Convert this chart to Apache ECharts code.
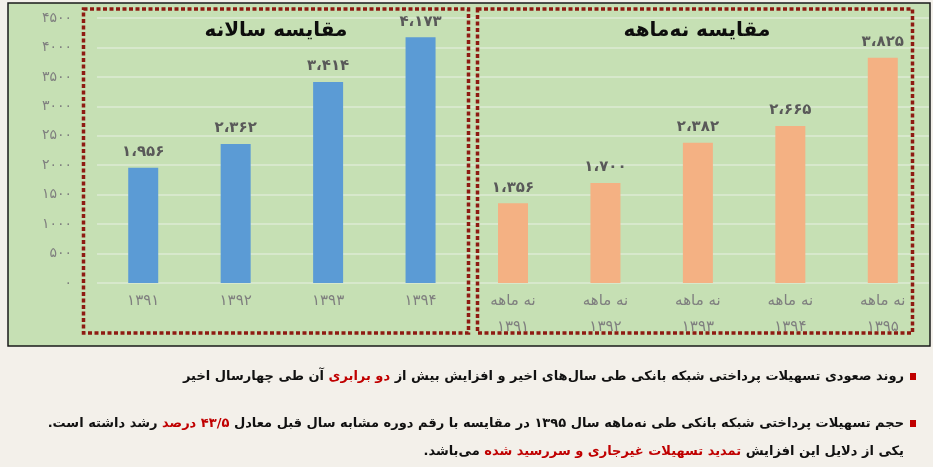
<!DOCTYPE html>
<html>
<head>
<meta charset="utf-8">
<script src="https://cdn.jsdelivr.net/npm/echarts@6/dist/echarts.min.js"></script>
<style>
  html, body { margin: 0; padding: 0; background: #f3f0ea; }
  #chart { width: 933px; height: 467px; }
</style>
</head>
<body>
<div id="chart"></div>
<script>
// Yearly facilities paid by the banking network (billion units)
const annualYears = ['۱۳۹۱', '۱۳۹۲', '۱۳۹۳', '۱۳۹۴'];
const annualValues = [1956, 2362, 3414, 4173];

// Nine-month totals for the same years plus 1395
const nineMonthYears = ['۱۳۹۱', '۱۳۹۲', '۱۳۹۳', '۱۳۹۴', '۱۳۹۵'];
const nineMonthValues = [1356, 1700, 2382, 2665, 3825];
const nineMonthPrefix = 'نه ماهه';

const panelTitles = ['مقایسه سالانه', 'مقایسه نه‌ماهه'];
const yMin = 0, yMax = 4500, yStep = 500;

// Notes below the chart: each line is [text, isHighlighted] pieces in reading order
const noteLines = [
  [['روند صعودی تسهیلات پرداختی شبکه بانکی طی سال‌های اخیر و افزایش بیش از', false],
   ['دو برابری', true],
   ['آن طی چهارسال اخیر', false]],
  [['حجم تسهیلات پرداختی شبکه بانکی طی نه‌ماهه سال ۱۳۹۵ در مقایسه با رقم دوره مشابه سال قبل معادل', false],
   ['۴۳/۵ درصد', true],
   ['رشد داشته است.', false]],
  [['یکی از دلایل این افزایش', false],
   ['تمدید تسهیلات غیرجاری و سررسید شده', true],
   ['می‌باشد.', false]]
];

const FA_DIGITS = '۰۱۲۳۴۵۶۷۸۹';
const toFa = s => String(s).replace(/\d/g, d => FA_DIGITS[+d]);
const fmtValue = v => toFa(v >= 1000 ? Math.floor(v / 1000) + '،' + String(v % 1000).padStart(3, '0') : v);
const RLM = '\u200F';
const rtl = s => RLM + s + RLM;

const FONT = 'DejaVu Sans';
const categories = annualYears.concat(nineMonthYears.map(y => nineMonthPrefix + '\n' + y));
const annualSeries = annualValues.concat(nineMonthYears.map(() => '-'));
const nineSeries = annualYears.map(() => '-').concat(nineMonthValues);

const valueLabel = {
  show: true,
  position: 'top',
  distance: 8,
  formatter: p => fmtValue(p.value),
  color: '#595959',
  fontFamily: FONT,
  fontWeight: 'bold',
  fontSize: 15
};

// Build rich text for a note line; pieces laid out right-to-left on screen
function noteRich(pieces) {
  const parts = pieces.slice().reverse().map(([t, hi]) => '{' + (hi ? 'r' : 'k') + '|' + rtl(t) + '}');
  return parts.join('{k| }');
}

const noteY = [377, 424, 452];
const noteGraphics = noteLines.map((pieces, i) => ({
  type: 'text',
  z: 50,
  style: {
    x: 904,
    y: noteY[i],
    align: 'right',
    verticalAlign: 'middle',
    text: noteRich(pieces),
    rich: {
      k: { fontFamily: FONT, fontWeight: 'bold', fontSize: 13, fill: '#111111' },
      r: { fontFamily: FONT, fontWeight: 'bold', fontSize: 13, fill: '#c00000' }
    }
  }
}));
const bulletGraphics = [0, 1].map(i => ({
  type: 'rect',
  z: 50,
  shape: { x: 910, y: noteY[i] - 4, width: 6, height: 7 },
  style: { fill: '#c00000' }
}));

const chart = echarts.init(document.getElementById('chart'), null, { renderer: 'canvas' });
chart.setOption({
  backgroundColor: '#f3f0ea',
  animation: false,
  grid: { left: 97, right: 4, top: 18, bottom: 184, containLabel: false },
  xAxis: {
    type: 'category',
    data: categories,
    axisLine: { show: false },
    axisTick: { show: false },
    axisLabel: {
      margin: 5,
      color: '#7f7f7f',
      fontFamily: FONT,
      fontSize: 15,
      lineHeight: 26,
      interval: 0
    }
  },
  yAxis: {
    type: 'value',
    min: yMin,
    max: yMax,
    interval: yStep,
    axisLine: { show: false },
    axisTick: { show: false },
    axisLabel: {
      margin: 25,
      color: '#7f7f7f',
      fontFamily: FONT,
      fontSize: 14,
      formatter: v => toFa(v)
    },
    splitLine: { lineStyle: { color: '#dcebd4', width: 1.5 } }
  },
  series: [
    {
      name: panelTitles[0],
      type: 'bar',
      data: annualSeries,
      barWidth: 30,
      barGap: '-100%',
      itemStyle: { color: '#5b9bd5' },
      label: valueLabel
    },
    {
      name: panelTitles[1],
      type: 'bar',
      data: nineSeries,
      barWidth: 30,
      barGap: '-100%',
      itemStyle: { color: '#f4b183' },
      label: valueLabel
    }
  ],
  graphic: [
    {
      type: 'rect',
      z: -10,
      shape: { x: 8, y: 3, width: 922, height: 343 },
      style: { fill: '#c6e0b4', stroke: '#1a1a1a', lineWidth: 1.5 }
    },
    {
      type: 'rect',
      z: 40,
      shape: { x: 83.5, y: 9, width: 385, height: 324 },
      style: { fill: null, stroke: '#8e1b12', lineWidth: 3.5, lineDash: [4, 2.5] }
    },
    {
      type: 'rect',
      z: 40,
      shape: { x: 477.5, y: 9, width: 435, height: 324 },
      style: { fill: null, stroke: '#8e1b12', lineWidth: 3.5, lineDash: [4, 2.5] }
    },
    {
      type: 'text',
      z: 50,
      style: {
        x: 276, y: 31, align: 'center', verticalAlign: 'middle',
        text: rtl(panelTitles[0]),
        fontFamily: FONT, fontWeight: 'bold', fontSize: 20, fill: '#0d0d0d'
      }
    },
    {
      type: 'text',
      z: 50,
      style: {
        x: 697, y: 31, align: 'center', verticalAlign: 'middle',
        text: rtl(panelTitles[1]),
        fontFamily: FONT, fontWeight: 'bold', fontSize: 20, fill: '#0d0d0d'
      }
    }
  ].concat(noteGraphics, bulletGraphics)
});
</script>
</body>
</html>
